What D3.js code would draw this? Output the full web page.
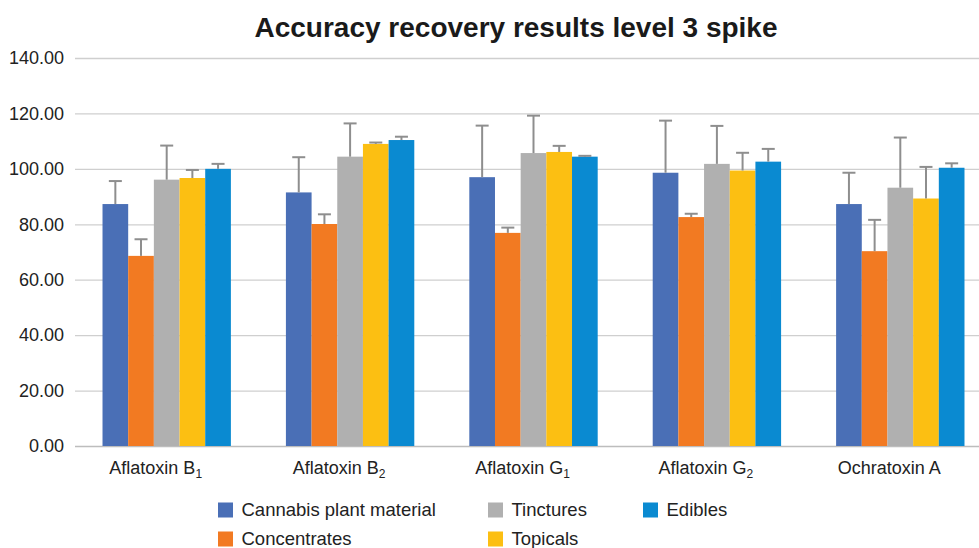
<!DOCTYPE html>
<html>
<head>
<meta charset="utf-8">
<script src="https://cdn.jsdelivr.net/npm/d3@7"></script>
<style>
  html, body { margin: 0; padding: 0; background: #fff; }
  svg { display: block; font-family: "Liberation Sans", Arial, sans-serif; }
</style>
</head>
<body>
<svg id="chart" width="979" height="548"></svg>
<script>
// ---- data ----
const title = "Accuracy recovery results level 3 spike";
const categories = [
  { base: "Aflatoxin B", sub: "1" },
  { base: "Aflatoxin B", sub: "2" },
  { base: "Aflatoxin G", sub: "1" },
  { base: "Aflatoxin G", sub: "2" },
  { base: "Ochratoxin A", sub: "" }
];
const seriesNames = ["Cannabis plant material", "Concentrates", "Tinctures", "Topicals", "Edibles"];
const seriesColors = ["#4a6fb6", "#f27a22", "#b0b0b0", "#fcbf12", "#0a8ad1"];
const cannabisValues     = [87.3, 91.5, 97.0, 98.6, 87.3];
const cannabisErrors     = [8.3, 12.7, 18.6, 18.8, 11.3];
const concentratesValues = [68.6, 80.1, 76.9, 82.6, 70.3];
const concentratesErrors = [6.0, 3.5, 1.9, 1.2, 11.3];
const tincturesValues    = [96.1, 104.4, 105.7, 101.8, 93.2];
const tincturesErrors    = [12.3, 12.0, 13.5, 13.7, 18.1];
const topicalsValues     = [96.7, 109.0, 106.1, 99.4, 89.3];
const topicalsErrors     = [2.9, 0.5, 2.2, 6.4, 11.4];
const ediblesValues      = [100.0, 110.4, 104.4, 102.6, 100.4];
const ediblesErrors      = [1.8, 1.2, 0.3, 4.6, 1.6];
const yTicks = [0, 20, 40, 60, 80, 100, 120, 140];

const seriesValues = [cannabisValues, concentratesValues, tincturesValues, topicalsValues, ediblesValues];
const seriesErrors = [cannabisErrors, concentratesErrors, tincturesErrors, topicalsErrors, ediblesErrors];

// ---- layout ----
const svg = d3.select("#chart");
const plotLeft = 75, plotRight = 992, plotTop = 58, plotBottom = 446;

const x0 = d3.scaleBand().domain(d3.range(categories.length)).range([plotLeft, plotRight])
  .paddingInner(0.3).paddingOuter(0.15);
const x1 = d3.scaleBand().domain(d3.range(seriesNames.length)).range([0, x0.bandwidth()]);
const y = d3.scaleLinear().domain([0, 140]).range([plotBottom, plotTop]);

// title
svg.append("text")
  .attr("x", 516).attr("y", 37)
  .attr("text-anchor", "middle")
  .attr("font-size", 28).attr("font-weight", "bold").attr("fill", "#1a1a1a")
  .text(title);

// gridlines
svg.append("g").selectAll("line").data(yTicks).join("line")
  .attr("x1", plotLeft).attr("x2", plotRight)
  .attr("y1", d => y(d) + 0.5).attr("y2", d => y(d) + 0.5)
  .attr("stroke", d => d === 0 ? "#bdbdbd" : "#cfcfcf").attr("stroke-width", 1.3);

// y labels
svg.append("g").selectAll("text").data(yTicks).join("text")
  .attr("x", 64).attr("y", d => y(d))
  .attr("dy", "0.35em").attr("text-anchor", "end")
  .attr("font-size", 18).attr("fill", "#222")
  .text(d => d3.format(".2f")(d));

// bars
const groups = svg.append("g").selectAll("g").data(categories).join("g")
  .attr("transform", (d, i) => `translate(${x0(i)},0)`);

groups.each(function (cat, ci) {
  const g = d3.select(this);
  seriesNames.forEach((s, si) => {
    const v = seriesValues[si][ci];
    g.append("rect")
      .attr("x", x1(si)).attr("width", x1.bandwidth())
      .attr("y", y(v)).attr("height", y(0) - y(v))
      .attr("fill", seriesColors[si]);
  });
  seriesNames.forEach((s, si) => {
    const v = seriesValues[si][ci], e = seriesErrors[si][ci];
    const cx = x1(si) + x1.bandwidth() / 2;
    g.append("line")
      .attr("x1", cx).attr("x2", cx)
      .attr("y1", y(v)).attr("y2", y(v + e))
      .attr("stroke", "#8e8e8e").attr("stroke-width", 2);
    g.append("line")
      .attr("x1", cx - 6.5).attr("x2", cx + 6.5)
      .attr("y1", y(v + e)).attr("y2", y(v + e))
      .attr("stroke", "#8e8e8e").attr("stroke-width", 2);
  });
});

// category labels
const catLabels = svg.append("g").selectAll("text").data(categories).join("text")
  .attr("x", (d, i) => x0(i) + x0.bandwidth() / 2 - 11)
  .attr("y", 474)
  .attr("text-anchor", "middle")
  .attr("font-size", 18).attr("fill", "#222");
catLabels.append("tspan").text(d => d.base);
catLabels.filter(d => d.sub).append("tspan")
  .attr("font-size", 12).attr("dy", 4).text(d => d.sub);

// legend
const legendPos = [
  { x: 218, y: 510 }, { x: 218, y: 539 },
  { x: 488, y: 510 }, { x: 488, y: 539 },
  { x: 643, y: 510 }
];
const legend = svg.append("g").selectAll("g").data(seriesNames).join("g")
  .attr("transform", (d, i) => `translate(${legendPos[i].x},${legendPos[i].y})`);
legend.append("rect").attr("x", 0).attr("y", -7.5).attr("width", 15).attr("height", 15)
  .attr("fill", (d, i) => seriesColors[i]);
legend.append("text").attr("x", 23.5).attr("y", 0).attr("dy", "0.33em")
  .attr("font-size", 18.5).attr("fill", "#222").text(d => d);
</script>
</body>
</html>
